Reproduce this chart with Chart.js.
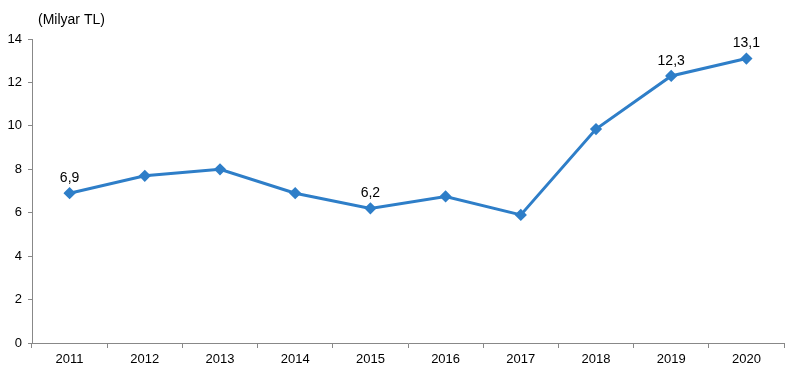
<!DOCTYPE html>
<html>
<head>
<meta charset="utf-8">
<script src="https://cdn.jsdelivr.net/npm/chart.js@4/dist/chart.umd.min.js"></script>
<style>
  html, body { margin: 0; padding: 0; background: #fff; }
  #wrap { width: 791px; height: 371px; }
</style>
</head>
<body>
<div id="wrap"><canvas id="myChart"></canvas></div>
<script>
const years = ['2011', '2012', '2013', '2014', '2015', '2016', '2017', '2018', '2019', '2020'];
const values = [6.9, 7.7, 8.0, 6.9, 6.2, 6.75, 5.9, 9.85, 12.3, 13.1];
// which points get a value label
const labelled = [true, false, false, false, true, false, false, false, true, true];
const yTicks = [0, 2, 4, 6, 8, 10, 12, 14];

// value labels above points + unit text
const labelPlugin = {
  id: 'labels',
  afterDatasetsDraw(chart) {
    const ctx = chart.ctx;
    const meta = chart.getDatasetMeta(0);
    ctx.save();
    ctx.font = '14px "Liberation Sans", Arial, sans-serif';
    ctx.fillStyle = '#000';
    ctx.textAlign = 'center';
    ctx.textBaseline = 'bottom';
    meta.data.forEach((pt, i) => {
      if (!labelled[i]) return;
      ctx.fillText(values[i].toFixed(1).replace('.', ','), pt.x, pt.y - 8);
    });
    ctx.textAlign = 'left';
    ctx.textBaseline = 'alphabetic';
    ctx.fillText('(Milyar TL)', chart.chartArea.left + 6, 24);
    ctx.restore();
  }
};

const config = {
  type: 'line',
  data: {
    labels: years,
    datasets: [{
      data: values,
      borderColor: 'rgb(46, 126, 200)',
      backgroundColor: 'rgb(46, 126, 200)',
      borderWidth: 3,
      pointStyle: 'rectRot',
      pointRadius: 4,
      pointHoverRadius: 4,
      tension: 0
    }]
  },
  options: {
    responsive: true,
    maintainAspectRatio: false,
    animation: false,
    layout: { padding: { top: 39, right: 7, left: 0, bottom: 0 } },
    plugins: {
      legend: { display: false },
      tooltip: { enabled: false }
    },
    scales: {
      x: {
        offset: true,
        grid: {
          offset: true,
          drawOnChartArea: false,
          drawTicks: true,
          tickLength: 5,
          color: '#888'
        },
        border: { color: '#888', width: 1 },
        ticks: {
          color: '#000',
          font: { family: '"Liberation Sans", Arial, sans-serif', size: 13 },
          padding: 4,
          maxRotation: 0
        },
        afterFit(scale) { scale.height = 28; }
      },
      y: {
        min: 0,
        max: 14,
        grid: {
          drawOnChartArea: false,
          drawTicks: true,
          tickLength: 4,
          color: '#888'
        },
        border: { color: '#888', width: 1 },
        ticks: {
          stepSize: 2,
          color: '#000',
          font: { family: '"Liberation Sans", Arial, sans-serif', size: 13 },
          padding: 6,
          callback: (v) => yTicks.includes(v) ? v : ''
        },
        afterFit(scale) { scale.width = 32; }
      }
    }
  },
  plugins: [labelPlugin]
};

const myChart = new Chart(document.getElementById('myChart'), config);
</script>
</body>
</html>
